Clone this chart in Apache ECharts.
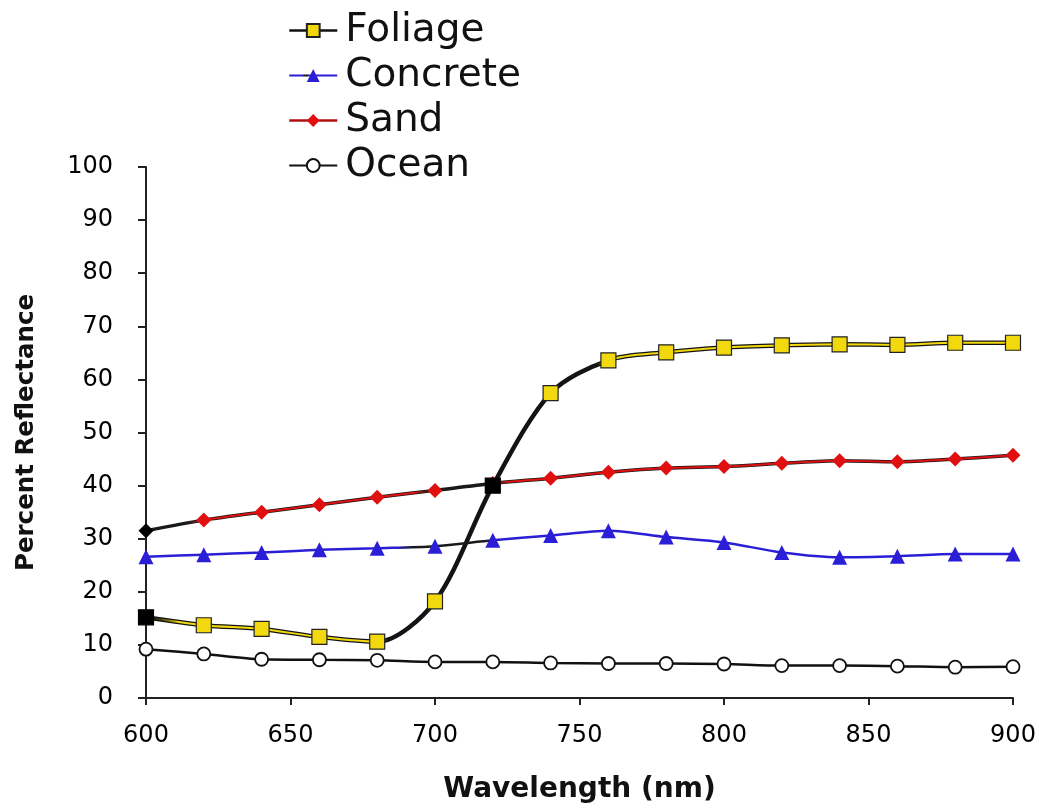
<!DOCTYPE html>
<html>
<head>
<meta charset="utf-8">
<script src="https://cdn.jsdelivr.net/npm/echarts@6/dist/echarts.min.js"></script>
<style>
  html, body { margin: 0; padding: 0; background: #fff; }
  #chart { width: 1039px; height: 809px; }
</style>
</head>
<body>
<div id="chart"></div>
<script>
// Wavelength samples (nm)
const wavelengths = [600, 620, 640, 660, 680, 700, 720, 740, 760, 780, 800, 820, 840, 860, 880, 900];

// Percent reflectance per surface type
const foliage  = [15.2, 13.7, 13.0, 11.5, 10.6, 18.2, 40.0, 57.4, 63.6, 65.1, 66.0, 66.4, 66.6, 66.5, 66.9, 66.9];
const concrete = [26.6, 27.0, 27.4, 27.9, 28.2, 28.6, 29.7, 30.6, 31.5, 30.3, 29.3, 27.4, 26.5, 26.7, 27.1, 27.1];
const sand     = [31.5, 33.5, 35.0, 36.4, 37.8, 39.1, 40.4, 41.4, 42.5, 43.3, 43.6, 44.2, 44.7, 44.5, 45.0, 45.7];
const ocean    = [9.2, 8.3, 7.3, 7.2, 7.1, 6.8, 6.8, 6.6, 6.5, 6.5, 6.4, 6.1, 6.1, 6.0, 5.8, 5.9];

// Axis ticks
const xTicks = [600, 650, 700, 750, 800, 850, 900];
const yTicks = [0, 10, 20, 30, 40, 50, 60, 70, 80, 90, 100];

// Points drawn with a solid black marker instead of the series fill
const blackFoliage = [600, 720];
const blackSand = [600];

function pairs(values, blackAt) {
  return wavelengths.map((w, i) => {
    const p = { value: [w, values[i]] };
    if (blackAt && blackAt.includes(w)) p.itemStyle = { color: '#000', borderColor: '#000' };
    return p;
  });
}

// Horizontal colour ramp along a line (offsets are fractions of the x extent)
function ramp(stops) {
  return new echarts.graphic.LinearGradient(0, 0, 1, 0,
    stops.map(([offset, color]) => ({ offset, color })));
}

const YELLOW = '#f2d90e';
const BLUE = '#2a1fd6';
const RED = '#e01010';
const font = 'DejaVu Sans, Verdana, sans-serif';
const smooth = 0.3;

const chart = echarts.init(document.getElementById('chart'), null, { renderer: 'canvas' });
chart.setOption({
  backgroundColor: '#fff',
  animation: false,
  grid: { left: 146, right: 26, top: 167, bottom: 111 },
  legend: {
    orient: 'vertical',
    left: 283,
    top: 6,
    itemWidth: 48,
    itemHeight: 16,
    itemGap: 6,
    textStyle: { fontFamily: font, fontSize: 39, color: '#111', padding: [0, 0, 0, 3] },
    data: [
      { name: 'Foliage', lineStyle: { color: '#111', width: 2.5 } },
      { name: 'Concrete' },
      { name: 'Sand', lineStyle: { color: '#b01010', width: 2.5 } },
      { name: 'Ocean' }
    ]
  },
  xAxis: {
    type: 'value',
    min: xTicks[0],
    max: xTicks[xTicks.length - 1],
    interval: 50,
    name: 'Wavelength (nm)',
    nameLocation: 'middle',
    nameGap: 78,
    nameTextStyle: { fontFamily: font, fontSize: 28, fontWeight: 'bold', color: '#111' },
    axisLine: { lineStyle: { color: '#222', width: 2 } },
    axisTick: { length: 7, lineStyle: { color: '#222', width: 2 } },
    axisLabel: { margin: 26, fontFamily: font, fontSize: 24, color: '#000',
      formatter: v => xTicks.includes(v) ? String(v) : '' },
    splitLine: { show: false }
  },
  yAxis: {
    type: 'value',
    min: yTicks[0],
    max: yTicks[yTicks.length - 1],
    interval: 10,
    name: 'Percent Reflectance',
    nameLocation: 'middle',
    nameGap: 107,
    nameRotate: 90,
    nameTextStyle: { fontFamily: font, fontSize: 24.5, fontWeight: 'bold', color: '#111' },
    axisLine: { show: true, lineStyle: { color: '#222', width: 2 } },
    axisTick: { show: true, length: 8, lineStyle: { color: '#222', width: 2 } },
    axisLabel: { margin: 33, fontFamily: font, fontSize: 24, color: '#000',
      formatter: v => yTicks.includes(v) ? String(v) : '' },
    splitLine: { show: false }
  },
  series: [
    // dark casing under the foliage line
    {
      name: 'Foliage casing', type: 'line', smooth,
      data: pairs(foliage), symbol: 'none', silent: true,
      lineStyle: { color: '#141414', width: 4.5 }, z: 2
    },
    {
      name: 'Foliage', type: 'line', smooth,
      data: pairs(foliage, blackFoliage),
      symbol: 'rect', symbolSize: 15,
      itemStyle: { color: YELLOW, borderColor: '#222', borderWidth: 1.2 },
      lineStyle: {
        width: 2,
        color: ramp([[0, 'rgba(0,0,0,0)'], [0.04, YELLOW], [0.26, YELLOW], [0.28, '#141414'],
                     [0.52, '#141414'], [0.54, YELLOW], [1, YELLOW]])
      },
      z: 4
    },
    {
      name: 'Concrete', type: 'line', smooth,
      data: pairs(concrete),
      symbol: 'triangle', symbolSize: 15,
      itemStyle: { color: BLUE, borderColor: BLUE, borderWidth: 0 },
      lineStyle: {
        width: 2.5,
        color: ramp([[0, BLUE], [0.29, BLUE], [0.31, '#1a1a1a'], [0.39, '#1a1a1a'], [0.41, BLUE], [1, BLUE]])
      },
      z: 3
    },
    // dark casing under the sand line
    {
      name: 'Sand casing', type: 'line', smooth,
      data: pairs(sand), symbol: 'none', silent: true,
      lineStyle: { color: '#1a1a1a', width: 3.5 }, z: 2
    },
    {
      name: 'Sand', type: 'line', smooth,
      data: pairs(sand, blackSand),
      symbol: 'diamond', symbolSize: 15,
      itemStyle: { color: RED, borderColor: RED, borderWidth: 0 },
      lineStyle: {
        width: 2,
        color: ramp([[0, '#1a1a1a'], [0.05, '#1a1a1a'], [0.07, RED], [0.31, RED], [0.33, '#1a1a1a'],
                     [0.39, '#1a1a1a'], [0.42, RED], [1, RED]])
      },
      z: 3
    },
    {
      name: 'Ocean', type: 'line', smooth,
      data: pairs(ocean),
      symbol: 'circle', symbolSize: 13,
      itemStyle: { color: '#fff', borderColor: '#111', borderWidth: 1.8 },
      lineStyle: { color: '#111', width: 2.5 },
      z: 3
    }
  ]
});
</script>
</body>
</html>
